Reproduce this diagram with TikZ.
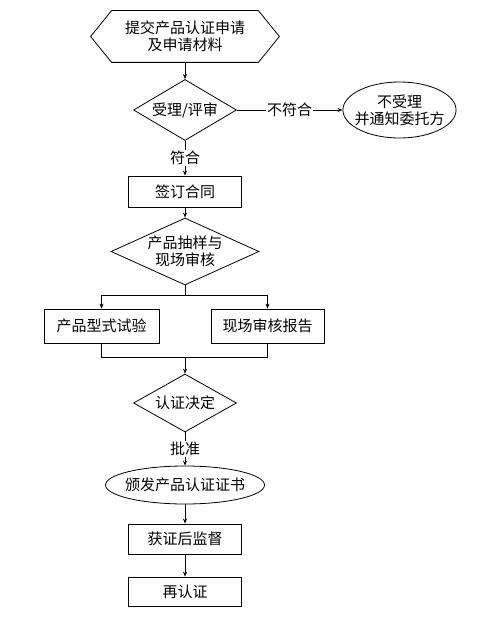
\documentclass[tikz,border=0pt]{standalone}
\usepackage{fontspec}
\setmainfont{Noto Sans CJK SC}
\usetikzlibrary{shapes.geometric,arrows.meta}

\begin{document}
\begin{tikzpicture}[x=1pt,y=-1pt,
    line width=0.8pt,
    every node/.style={font=\fontsize{15}{17}\selectfont, align=center},
    box/.style={draw, minimum width=113pt, inner sep=0pt},
    decision/.style={draw, diamond, inner sep=0pt},
    oval/.style={draw, ellipse, inner xsep=-5pt, inner ysep=2pt},
    arr/.style={-{Stealth[length=5pt,width=4pt]}},
    lbl/.style={fill=white, inner sep=1pt}]
    \def\cx{185}
    \def\tip{21pt}

    \useasboundingbox (0,0) rectangle (496,618);

    \node (start) [minimum width=188pt, minimum height=51pt] at (\cx,36.5) {提交产品认证申请\\及申请材料};
    \draw ([xshift=\tip]start.north west) -- ([xshift=-\tip]start.north east) -- (start.east)
        -- ([xshift=-\tip]start.south east) -- ([xshift=\tip]start.south west) -- (start.west) -- cycle;

    \node (review) [decision, minimum width=103pt, minimum height=61pt, shape aspect=1.69] at (\cx,110) {受理/评审};
    \node (reject) [oval, minimum width=113pt, minimum height=56pt] at (399.5,110) {不受理\\并通知委托方};
    \node (contract) [box, minimum height=31pt] at (\cx,191.5) {签订合同};
    \node (sample) [decision, minimum width=148pt, minimum height=67pt, shape aspect=2.2] at (\cx,251.5) {产品抽样与\\现场审核};
    \node (test) [box, minimum width=115pt, minimum height=34pt] at (101.5,326) {产品型式试验};
    \node (report) [box, minimum height=34pt] at (267.5,326) {现场审核报告};
    \node (decide) [decision, minimum width=103pt, minimum height=58pt, shape aspect=1.78] at (\cx,403) {认证决定};
    \node (issue) [oval, minimum width=159pt, minimum height=38pt] at (\cx,485) {颁发产品认证证书};
    \node (supervise) [box, minimum height=30pt] at (\cx,539) {获证后监督};
    \node (recert) [box, minimum height=29pt] at (\cx,591.5) {再认证};

    \coordinate (split) at (\cx,295);
    \coordinate (merge) at (\cx,357);

    \draw[arr] (start) -- (review);
    \draw[arr] (review) -- node[lbl] {不符合} (reject);
    \draw[arr] (review) -- node[lbl] {符合} (contract);
    \draw[arr] (contract) -- (sample);
    \draw (sample) -- (split);
    \draw[arr] (split) -| (test);
    \draw[arr] (split) -| (report);
    \draw (test) |- (merge);
    \draw (report) |- (merge);
    \draw[arr] (merge) -- (decide);
    \draw[arr] (decide) -- node[lbl] {批准} (issue);
    \draw[arr] (issue) -- (supervise);
    \draw[arr] (supervise) -- (recert);
\end{tikzpicture}
\end{document}
